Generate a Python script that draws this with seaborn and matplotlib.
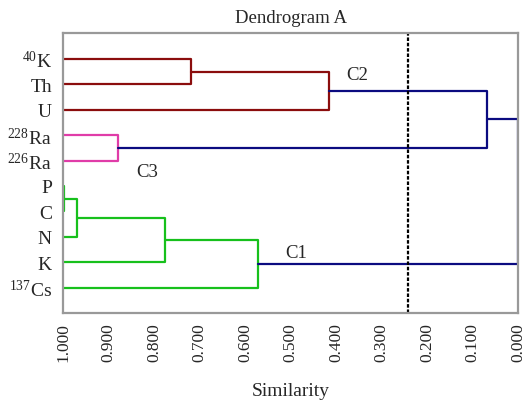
import pandas as pd
import seaborn as sns
import matplotlib.pyplot as plt

# leaf order, top to bottom
leaves = [r'$^{40}$K', 'Th', 'U', r'$^{228}$Ra', r'$^{226}$Ra',
          'P', 'C', 'N', 'K', r'$^{137}$Cs']

# linkage rows (scipy style node ids): child a, child b, similarity, group
link_a = [0, 10, 3, 5, 13, 14, 15, 11, 17]
link_b = [1, 2, 4, 6, 7, 8, 9, 12, 16]
link_sim = [0.718, 0.415, 0.880, 0.997, 0.970, 0.775, 0.572, 0.068, 0.000]
link_group = ['C2', 'C2', 'C3', 'C1', 'C1', 'C1', 'C1', 'root', 'root']

cut_level = 0.242
xticks = [1.0, 0.9, 0.8, 0.7, 0.6, 0.5, 0.4, 0.3, 0.2, 0.1, 0.0]

palette = {'C1': '#17c01c', 'C2': '#8b0d0d', 'C3': '#e03ca8', 'root': '#0b0b80'}

# build the U-shaped segments of the dendrogram
pos = {i: float(i) for i in range(len(leaves))}
height = {i: 1.0 for i in range(len(leaves))}
rows = []
for k, (a, b, s, g) in enumerate(zip(link_a, link_b, link_sim, link_group)):
    node = len(leaves) + k
    pos[node] = (pos[a] + pos[b]) / 2
    height[node] = s
    for (x, y) in [(height[a], pos[a]), (s, pos[a]), (s, pos[b]), (height[b], pos[b])]:
        rows.append({'link': k, 'group': g, 'sim': x, 'row': y})
segments = pd.DataFrame(rows)

sns.set_style('white')
plt.rcParams['font.family'] = ['Liberation Serif', 'DejaVu Serif']
plt.rcParams['mathtext.default'] = 'regular'

fig = plt.figure(figsize=(5.26, 4.02), dpi=100)
ax = fig.add_axes([0.1198, 0.2189, 0.8650, 0.6965])

sns.lineplot(
    data=segments,
    x='sim', y='row',
    units='link', hue='group',
    estimator=None, sort=False,
    palette=palette, linewidth=1.6,
    legend=False, ax=ax,
)

ax.axvline(cut_level, color='black', linestyle=(0, (1.6, 0.8)), linewidth=1.6, zorder=3)

ax.text(0.378, 0.6, 'C2', fontsize=13.5, ha='left', va='center')
ax.text(0.840, 4.42, 'C3', fontsize=13.5, ha='left', va='center')
ax.text(0.511, 7.6, 'C1', fontsize=13.5, ha='left', va='center')

ax.set_xlim(1.0, 0.0)
ax.set_ylim(10.0, -1.02)
ax.set_xticks(xticks)
ax.set_xticklabels([f'{t:.3f}' for t in xticks], rotation=90, fontsize=12.5)
ax.set_yticks(range(len(leaves)))
ax.set_yticklabels(leaves, fontsize=14)

ax.tick_params(axis='x', direction='inout', length=7, width=1.6, color='#999999', pad=3)
ax.tick_params(axis='y', length=0, pad=8)

for spine in ax.spines.values():
    spine.set_color('#999999')
    spine.set_linewidth(1.6)
    spine.set_zorder(4)

ax.set_xlabel('Similarity', fontsize=14, labelpad=15)
ax.set_ylabel('')
ax.set_title('Dendrogram A', fontsize=13.5, pad=8)

fig.savefig('out.png', dpi=100)
